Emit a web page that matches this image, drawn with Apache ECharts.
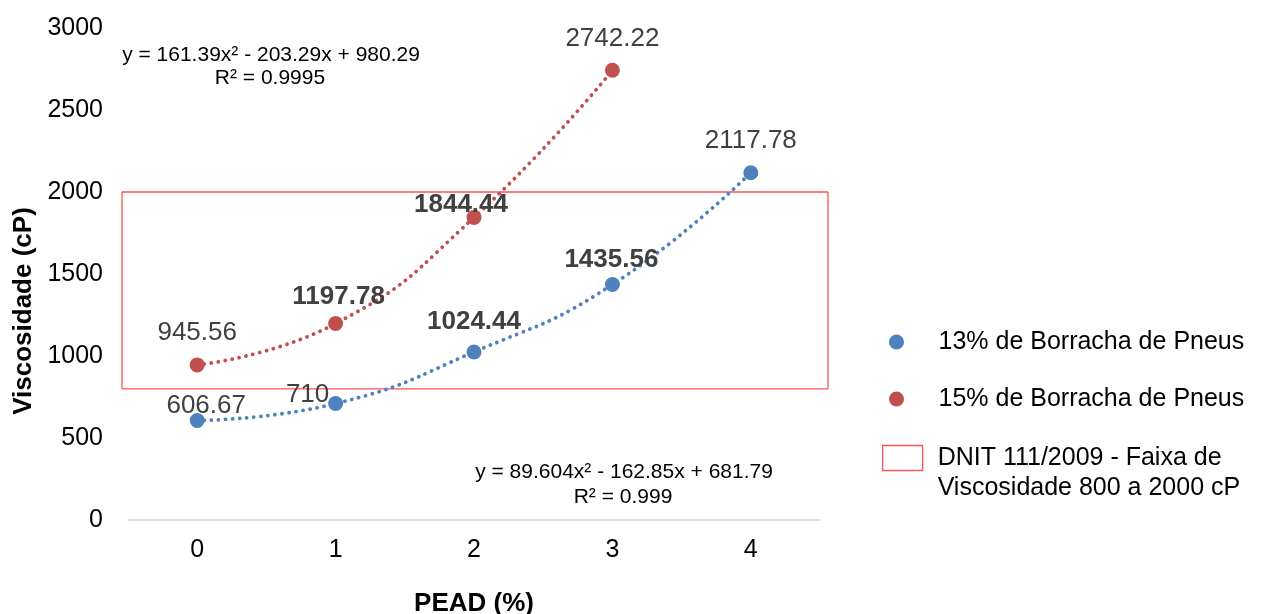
<!DOCTYPE html>
<html>
<head>
<meta charset="utf-8">
<title>Viscosidade x PEAD</title>
<script src="https://cdn.jsdelivr.net/npm/echarts@6/dist/echarts.min.js"></script>
<style>
  html, body { margin: 0; padding: 0; background: #fff; }
  #chart { width: 1274px; height: 614px; }
</style>
</head>
<body>
<div id="chart"></div>
<script>
// PEAD content (%) on the horizontal axis
const categories = ['0', '1', '2', '3', '4'];
// Brookfield viscosity (cP) for each rubber content
const borracha13 = [606.67, 710, 1024.44, 1435.56, 2117.78];
const borracha15 = [945.56, 1197.78, 1844.44, 2742.22];
// DNIT 111/2009 viscosity range (cP)
const faixaMin = 800;
const faixaMax = 2000;
// vertical axis ticks
const yMin = 0, yMax = 3000, yStep = 500;

const nome13 = '13% de Borracha de Pneus';
const nome15 = '15% de Borracha de Pneus';
const nomeFaixa = 'DNIT 111/2009 - Faixa de\nViscosidade 800 a 2000 cP';

const FONT = '"Liberation Sans", Arial, Helvetica, sans-serif';
const AZUL = '#4F81BD';
const VERMELHO = '#C0504D';
const LIMITE = '#FF5252';

// plot area in pixels
const G = { left: 128, right: 454, top: 28, bottom: 94 };
// the range outline sits on its own, slightly wider grid
const GF = { left: 122, right: 446, top: 28, bottom: 94 };

// per-point label placement (offset from the default "top" spot, bold or not)
const rotulos13 = [
  { offset: [9, 11], bold: false },
  { offset: [-28, 17], bold: false },
  { offset: [0, -5], bold: true },
  { offset: [-1, 1], bold: true },
  { offset: [0, -6], bold: false }
];
const rotulos15 = [
  { offset: [0, -7], bold: false },
  { offset: [3, -1], bold: true },
  { offset: [-13, 13], bold: true },
  { offset: [0, -6], bold: false }
];

function pontos(valores, rotulos) {
  return valores.map((v, i) => ({
    value: v,
    label: {
      offset: rotulos[i].offset,
      fontWeight: rotulos[i].bold ? 'bold' : 'normal'
    }
  }));
}

function serieTendencia(nome, cor, valores, rotulos) {
  return {
    name: nome,
    type: 'line',
    xAxisIndex: 0,
    yAxisIndex: 0,
    data: pontos(valores, rotulos),
    smooth: 0.5,
    symbol: 'circle',
    symbolSize: 15,
    itemStyle: { color: cor },
    lineStyle: { color: cor, width: 3.8, type: [0.1, 7], cap: 'round' },
    label: {
      show: true,
      position: 'top',
      distance: 5,
      fontFamily: FONT,
      fontSize: 26,
      color: '#404040',
      formatter: p => String(p.value)
    },
    z: 3
  };
}

// outline of the DNIT range on the auxiliary grid (x spans the whole grid)
const contornoFaixa = [
  [0, faixaMin], [1, faixaMin], [1, faixaMax], [0, faixaMax], [0, faixaMin]
];

const chart = echarts.init(document.getElementById('chart'), null, { renderer: 'canvas' });

chart.setOption({
  backgroundColor: '#ffffff',
  animation: false,
  textStyle: { fontFamily: FONT },
  grid: [
    Object.assign({ containLabel: false, outerBoundsMode: 'none' }, G),
    Object.assign({ containLabel: false, outerBoundsMode: 'none' }, GF)
  ],
  xAxis: [
    {
      type: 'category',
      gridIndex: 0,
      data: categories,
      boundaryGap: true,
      axisLine: { show: true, lineStyle: { color: '#D9D9D9', width: 1.5 } },
      axisTick: { show: false },
      axisLabel: { fontFamily: FONT, fontSize: 25, color: '#000', margin: 18 },
      splitLine: { show: false },
      name: 'PEAD (%)',
      nameLocation: 'middle',
      nameGap: 71,
      nameTextStyle: { fontFamily: FONT, fontSize: 26, fontWeight: 'bold', color: '#000' }
    },
    {
      type: 'value',
      gridIndex: 1,
      min: 0,
      max: 1,
      show: false
    }
  ],
  yAxis: [
    {
      type: 'value',
      gridIndex: 0,
      min: yMin,
      max: yMax,
      interval: yStep,
      axisLine: { show: false },
      axisTick: { show: false },
      splitLine: { show: false },
      axisLabel: {
        fontFamily: FONT, fontSize: 25, color: '#000', margin: 25,
        formatter: v => String(v)
      },
      name: 'Viscosidade (cP)',
      nameLocation: 'middle',
      nameGap: 79,
      nameTextStyle: {
        fontFamily: FONT, fontSize: 26, fontWeight: 'bold', color: '#000',
        padding: [0, 74, 0, 0]
      }
    },
    {
      type: 'value',
      gridIndex: 1,
      min: yMin,
      max: yMax,
      show: false
    }
  ],
  legend: [
    {
      orient: 'vertical',
      left: 884,
      top: 322,
      itemWidth: 40,
      itemHeight: 15,
      itemGap: 27,
      icon: 'circle',
      data: [nome13, nome15],
      textStyle: { fontFamily: FONT, fontSize: 25, color: '#000', lineHeight: 30, padding: [0, 0, 0, 17] },
      selectedMode: false
    },
    {
      orient: 'vertical',
      left: 877,
      top: 408,
      itemWidth: 40,
      itemHeight: 25,
      data: [{
        name: nomeFaixa,
        icon: 'rect',
        itemStyle: { color: '#ffffff', borderColor: LIMITE, borderWidth: 1.3 }
      }],
      // a leading blank line keeps the first text line level with the box icon
      formatter: n => '\n' + n,
      textStyle: { fontFamily: FONT, fontSize: 25, color: '#000', lineHeight: 30, padding: [0, 0, 0, 10] },
      selectedMode: false
    }
  ],
  graphic: [
    {
      type: 'text', x: 271, y: 55,
      style: { text: 'y = 161.39x² - 203.29x + 980.29', fontFamily: FONT, fontSize: 21, fill: '#000', align: 'center', verticalAlign: 'middle' }
    },
    {
      type: 'text', x: 270, y: 78,
      style: { text: 'R² = 0.9995', fontFamily: FONT, fontSize: 21, fill: '#000', align: 'center', verticalAlign: 'middle' }
    },
    {
      type: 'text', x: 624, y: 472,
      style: { text: 'y = 89.604x² - 162.85x + 681.79', fontFamily: FONT, fontSize: 21, fill: '#000', align: 'center', verticalAlign: 'middle' }
    },
    {
      type: 'text', x: 623, y: 497,
      style: { text: 'R² = 0.999', fontFamily: FONT, fontSize: 21, fill: '#000', align: 'center', verticalAlign: 'middle' }
    }
  ],
  series: [
    serieTendencia(nome13, AZUL, borracha13, rotulos13),
    serieTendencia(nome15, VERMELHO, borracha15, rotulos15),
    {
      name: nomeFaixa,
      type: 'line',
      xAxisIndex: 1,
      yAxisIndex: 1,
      data: contornoFaixa,
      symbol: 'none',
      clip: false,
      itemStyle: { color: LIMITE },
      lineStyle: { color: LIMITE, width: 1.3 },
      z: 1,
      silent: true
    }
  ]
});
</script>
</body>
</html>
